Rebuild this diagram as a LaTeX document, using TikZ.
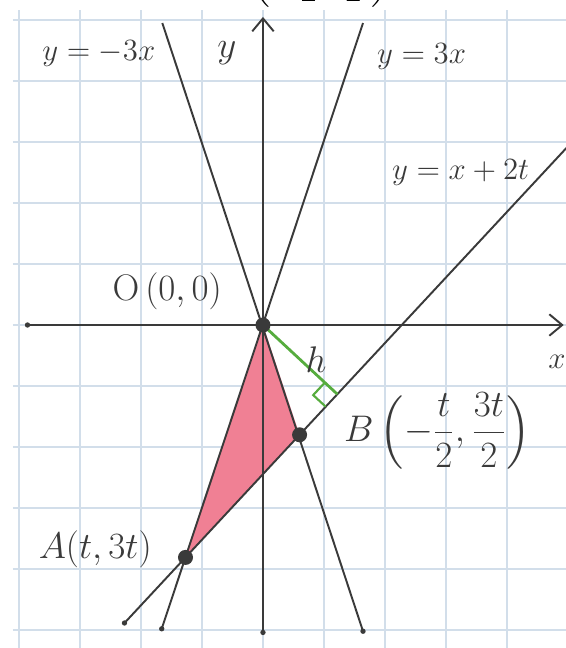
\documentclass[tikz,border=0pt]{standalone}
\usepackage{amsmath,amssymb}
\usepackage{xcolor}
\usepackage{tikz}
\usetikzlibrary{positioning,arrows.meta,calc}
\definecolor{gridcol}{RGB}{210,222,234}
\definecolor{pencol} {RGB}{58,58,58}
\definecolor{areacol}{RGB}{240,128,148}
\definecolor{hcol}   {RGB}{86,172,62}
\begin{document}
\begin{tikzpicture}[
  pen/.style={draw=pencol,line width=0.9pt},
  axis/.style={pen,-{Straight Barb[length=6pt,width=10pt]}},
  vdot/.style={circle,fill=pencol,inner sep=0pt,minimum size=7pt},
  edot/.style={circle,fill=pencol,inner sep=0pt,minimum size=2.5pt},
  hand/.style={font=\fontsize{15}{17}\selectfont,text=pencol,inner sep=1pt},
  bighand/.style={hand,font=\fontsize{19}{21}\selectfont},
  hline/.style={draw=hcol,line width=1.3pt}
]
\useasboundingbox (-4.311,-5.295) rectangle (4.967,5.328);
\clip (-4.311,-5.295) rectangle (4.967,5.328);
\fill[white] (-4.311,-5.295) rectangle (4.967,5.328);
\draw[gridcol,line width=0.6pt] (-4.1,-5.4) grid (5.1,5.17);
% clipped formula at the top edge
\node[font=\Large,inner sep=0pt,anchor=south] (top) at (0.95,5.2)
  {$\boldsymbol{\left(-\dfrac{t}{2},\dfrac{3t}{2}\right)}$};
\coordinate (O) at (0,0);
\coordinate (A) at (-1.27,-3.81);
\coordinate (B) at (0.6,-1.8);
\coordinate (F) at ($(A)!(O)!(B)$);
\fill[areacol] (O) -- (A) -- (B) -- cycle;
\coordinate (xl) at (-3.86,0);
\coordinate (xr) at (4.93,0);
\coordinate (yb) at (0,-5.04);
\coordinate (yt) at (0,5.05);
\coordinate (p1) at (-1.66,-4.98);
\coordinate (p2) at (1.64,4.95);
\coordinate (q1) at (1.64,-5.02);
\coordinate (q2) at (-1.65,4.95);
\coordinate (r1) at ($(A)!-0.535!(B)$);
\coordinate (r2) at ($(A)!3.4!(B)$);
\draw[axis] (xl) -- (xr);
\draw[axis] (yb) -- (yt);
\draw[pen] (p1) -- (p2);
\draw[pen] (q1) -- (q2);
\draw[pen] (r1) -- (r2);
\foreach \e in {xl,yb,p1,q1,r1}
  \node[edot] at (\e) {};
\draw[hline] (O) -- (F);
\coordinate (m1) at ($(F)!0.28cm!(B)$);
\coordinate (m2) at ($(F)!0.28cm!(O)$);
\draw[hcol,line width=1pt] (m1) -- ($(m1)+(m2)-(F)$) -- (m2);
\node[vdot] (o) at (O) {};
\node[vdot] (a) at (A) {};
\node[vdot] (b) at (B) {};
\node[hand] (lm) at (-2.69,4.45) {$y=-3x$};
\node[bighand] (ly) at (-0.59,4.45) {$y$};
\node[hand] (lp) at (2.6,4.4) {$y=3x$};
\node[hand] (lr) at (3.24,2.5) {$y=x+2t$};
\node[bighand] (lo) at (-1.57,0.55) {$\mathrm{O}\,(0,0)$};
\node[hand,font=\fontsize{17}{19}\selectfont] (lh) at (0.87,-0.56) {$h$};
\node[bighand] (lb) at (2.86,-1.74) {$B\left(-\dfrac{t}{2},\dfrac{3t}{2}\right)$};
\node[bighand] (la) at (-2.75,-3.68) {$A(t,3t)$};
\node[hand] (lx) at (4.82,-0.6) {$x$};
\end{tikzpicture}
\end{document}
